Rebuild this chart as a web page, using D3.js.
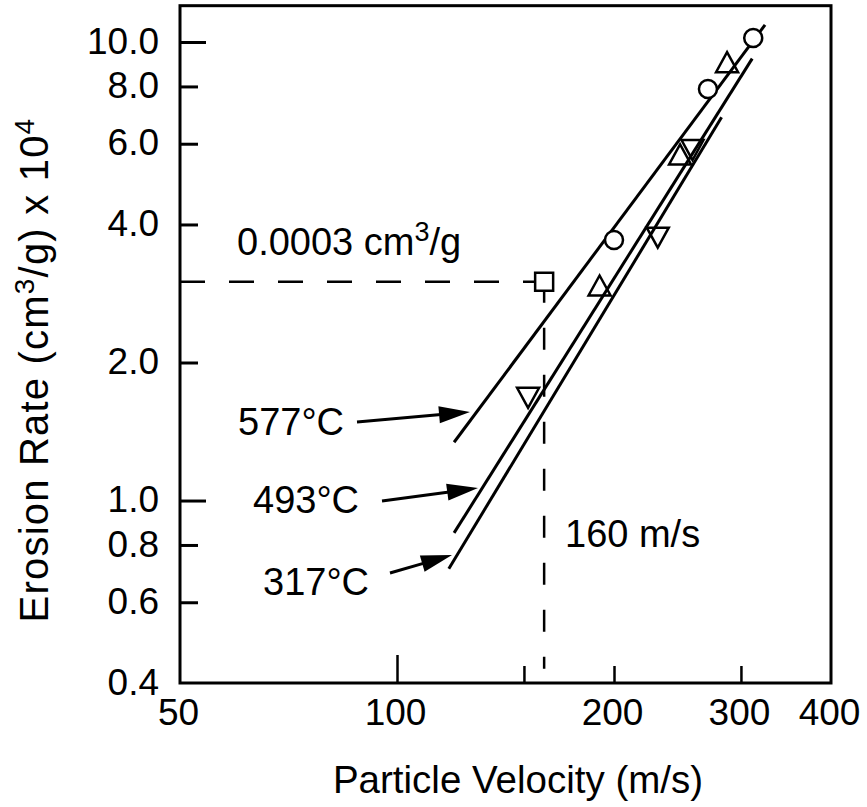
<!DOCTYPE html>
<html>
<head>
<meta charset="utf-8">
<script src="https://cdn.jsdelivr.net/npm/d3@7"></script>
<style>
  html, body { margin: 0; padding: 0; background: #fff; }
  svg text { font-family: "Liberation Sans", Arial, Helvetica, sans-serif; fill: #000; }
</style>
</head>
<body>
<div id="chart"></div>
<script>
// ---------- data ----------
const xTickValues = [100, 150, 200, 300];
const xLongTicks = [100];
const xTickLabels = [50, 100, 200, 300, 400];
const yTickValues = [10, 8, 6, 4, 2, 1, 0.8, 0.6];
const yLongTicks = [10, 1];
const yTickLabels = [10, 8, 6, 4, 2, 1, 0.8, 0.6, 0.4];

// fitted lines (velocity m/s, erosion rate x1e4 cm3/g) endpoints
const lineNames = ["577°C", "493°C", "317°C"];
const lineStartV = [120, 120, 118];
const lineStartE = [1.34, 0.85, 0.71];
const lineEndV = [324, 311, 282];
const lineEndE = [10.9, 9.2, 6.85];

// measured points
const circleV = [200, 270, 312];
const circleE = [3.7, 7.9, 10.2];
const triUpV = [191, 247, 287];
const triUpE = [2.9, 5.6, 8.9];
const triDownV = [152, 230, 257];
const triDownE = [1.7, 3.8, 5.9];

// reference point
const refV = 160;
const refE = 3.0;
const refRateLabel = "0.0003 cm";
const refVelLabel = "160 m/s";

// ---------- layout ----------
const W = 867, H = 807;
const xDomain = [50, 400], yDomain = [0.4, 10], yTopValue = 12;
const x = d3.scaleLog().domain(xDomain).range([180, 831]);
const y = d3.scaleLog().domain(yDomain).range([683, 42]);
const FONT = 37;
const ANN = 38;

const svg = d3.select("#chart").append("svg")
  .attr("width", W).attr("height", H);

// frame
const fLeft = x(xDomain[0]), fRight = x(xDomain[1]);
const fBottom = y(yDomain[0]), fTop = y(yTopValue);
svg.append("rect")
  .attr("x", fLeft).attr("y", fTop)
  .attr("width", fRight - fLeft).attr("height", fBottom - fTop)
  .attr("fill", "none").attr("stroke", "#000").attr("stroke-width", 3);

// x ticks (inward)
function xTickAxis(vals, len) {
  const g = svg.append("g").attr("transform", `translate(0,${fBottom})`)
    .call(d3.axisBottom(x).tickValues(vals).tickSize(-len).tickFormat(""));
  g.select(".domain").remove();
  g.selectAll("line").attr("stroke", "#000").attr("stroke-width", 2.5);
}
xTickAxis(xTickValues.filter(v => !xLongTicks.includes(v)), 17);
xTickAxis(xLongTicks, 28);

const xl = svg.append("g").attr("transform", `translate(0,${fBottom})`)
  .call(d3.axisBottom(x).tickValues(xTickLabels).tickSize(0).tickPadding(16)
    .tickFormat(d3.format("d")));
xl.select(".domain").remove();
xl.selectAll("text").attr("font-size", FONT).attr("dx", -2)
  .style("font-family", '"Liberation Sans", Arial, sans-serif');

// y ticks (inward)
function yTickAxis(vals, len) {
  const g = svg.append("g").attr("transform", `translate(${fLeft},0)`)
    .call(d3.axisLeft(y).tickValues(vals).tickSize(-len).tickFormat(""));
  g.select(".domain").remove();
  g.selectAll("line").attr("stroke", "#000").attr("stroke-width", 3);
}
yTickAxis(yTickValues.filter(v => !yLongTicks.includes(v)), 18);
yTickAxis(yLongTicks, 26);

const yl = svg.append("g").attr("transform", `translate(${fLeft},0)`)
  .call(d3.axisLeft(y).tickValues(yTickLabels).tickSize(0).tickPadding(21)
    .tickFormat(d3.format(".1f")));
yl.select(".domain").remove();
yl.selectAll("text").attr("font-size", FONT).attr("dy", "0.3em")
  .style("font-family", '"Liberation Sans", Arial, sans-serif');

// axis titles
svg.append("text")
  .attr("x", 518).attr("y", 793)
  .attr("text-anchor", "middle").attr("font-size", 38.5)
  .text("Particle Velocity (m/s)");

const yt = svg.append("text")
  .attr("transform", "translate(48,370) rotate(-90)")
  .attr("text-anchor", "middle").attr("font-size", 40)
  .attr("letter-spacing", 1.2);
yt.append("tspan").text("Erosion Rate (cm");
yt.append("tspan").attr("font-size", 28).attr("dy", -14).text("3");
yt.append("tspan").attr("dy", 14).text("/g) x 10");
yt.append("tspan").attr("font-size", 28).attr("dy", -14).text("4");

// reference dashed lines
svg.append("line")
  .attr("x1", fLeft).attr("x2", x(refV) - 10)
  .attr("y1", y(refE)).attr("y2", y(refE))
  .attr("stroke", "#000").attr("stroke-width", 2.5)
  .attr("stroke-dasharray", "25,24");
svg.append("line")
  .attr("x1", x(refV)).attr("x2", x(refV))
  .attr("y1", y(refE) + 9).attr("y2", fBottom)
  .attr("stroke", "#000").attr("stroke-width", 2.5)
  .attr("stroke-dasharray", "12,25,22,25,22,25,22,25,22,25,22,25,22,25,22,25");
svg.append("rect")
  .attr("x", x(refV) - 9).attr("y", y(refE) - 9)
  .attr("width", 18).attr("height", 18)
  .attr("fill", "#fff").attr("stroke", "#000").attr("stroke-width", 2.5);

// fitted lines
svg.append("g").selectAll("line")
  .data(lineNames.map((n, i) => ({ n, v0: lineStartV[i], e0: lineStartE[i], v1: lineEndV[i], e1: lineEndE[i] })))
  .join("line")
  .attr("x1", d => x(d.v0)).attr("y1", d => y(d.e0))
  .attr("x2", d => x(d.v1)).attr("y2", d => y(d.e1))
  .attr("stroke", "#000").attr("stroke-width", 3);

// markers
svg.append("g").selectAll("circle")
  .data(circleV.map((v, i) => ({ v, e: circleE[i] })))
  .join("circle")
  .attr("cx", d => x(d.v)).attr("cy", d => y(d.e)).attr("r", 9)
  .attr("fill", "#fff").attr("stroke", "#000").attr("stroke-width", 2.5);

const triUp = "M0,-13L11,7L-11,7Z";
const triDown = "M0,13L11,-7L-11,-7Z";
svg.append("g").selectAll("path")
  .data(triUpV.map((v, i) => ({ v, e: triUpE[i] })))
  .join("path")
  .attr("d", triUp)
  .attr("transform", d => `translate(${x(d.v)},${y(d.e)})`)
  .attr("fill", "none").attr("stroke", "#000").attr("stroke-width", 2.5)
  .attr("stroke-linejoin", "miter");
svg.append("g").selectAll("path")
  .data(triDownV.map((v, i) => ({ v, e: triDownE[i] })))
  .join("path")
  .attr("d", triDown)
  .attr("transform", d => `translate(${x(d.v)},${y(d.e)})`)
  .attr("fill", "none").attr("stroke", "#000").attr("stroke-width", 2.5)
  .attr("stroke-linejoin", "miter");

// reference labels
const rl = svg.append("text").attr("x", 237).attr("y", 255).attr("font-size", ANN);
rl.append("tspan").text(refRateLabel);
rl.append("tspan").attr("font-size", 27).attr("dy", -14).text("3");
rl.append("tspan").attr("dy", 14).text("/g");

svg.append("text").attr("x", 565).attr("y", 547).attr("font-size", ANN).text(refVelLabel);

// temperature labels with arrows
const labelLayout = [
  { tx: 238, ty: 435, ax0: 357, ay0: 422, ax1: 470, ay1: 412 },
  { tx: 253, ty: 513, ax0: 382, ay0: 501, ax1: 478, ay1: 488 },
  { tx: 263, ty: 595, ax0: 390, ay0: 573, ax1: 452, ay1: 555 }
];
lineNames.forEach((name, i) => {
  const L = labelLayout[i];
  svg.append("text").attr("x", L.tx).attr("y", L.ty).attr("font-size", ANN).text(name);
  const dx = L.ax1 - L.ax0, dy = L.ay1 - L.ay0;
  const len = Math.hypot(dx, dy), ux = dx / len, uy = dy / len;
  const hl = 31, hw = 8.5;
  const bx = L.ax1 - ux * hl, by = L.ay1 - uy * hl;
  svg.append("line")
    .attr("x1", L.ax0).attr("y1", L.ay0).attr("x2", bx + ux * 2).attr("y2", by + uy * 2)
    .attr("stroke", "#000").attr("stroke-width", 3);
  svg.append("path")
    .attr("d", `M${L.ax1},${L.ay1}L${bx - uy * hw},${by + ux * hw}L${bx + uy * hw},${by - ux * hw}Z`)
    .attr("fill", "#000");
});
</script>
</body>
</html>
